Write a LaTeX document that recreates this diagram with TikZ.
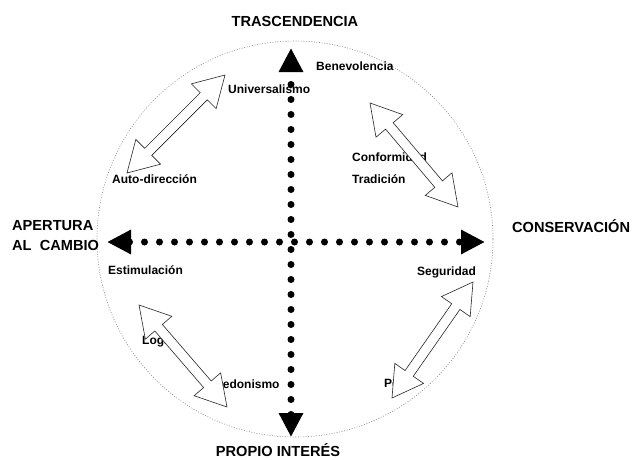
\documentclass[tikz,border=0pt]{standalone}
\usepackage{fontspec}
\setmainfont{Liberation Sans}
\usetikzlibrary{arrows.meta,calc}

% hollow two-headed arrow between two named coordinates
\newcommand{\twoway}[2]{%
  \draw[hollowarrow] (#1)
    -- ($(#1)!30pt!(#2)!17.5pt!90:(#2)$) -- ($(#1)!30pt!(#2)!5pt!90:(#2)$)
    -- ($(#2)!30pt!(#1)!5pt!-90:(#1)$) -- ($(#2)!30pt!(#1)!17.5pt!-90:(#1)$)
    -- (#2)
    -- ($(#2)!30pt!(#1)!17.5pt!90:(#1)$) -- ($(#2)!30pt!(#1)!5pt!90:(#1)$)
    -- ($(#1)!30pt!(#2)!5pt!-90:(#2)$) -- ($(#1)!30pt!(#2)!17.5pt!-90:(#2)$)
    -- cycle;}

\begin{document}
\begin{tikzpicture}[x=1pt,y=-1pt,
    pole/.style={font=\fontsize{14.6}{20}\selectfont\bfseries},
    value/.style={font=\fontsize{12}{14}\selectfont\bfseries, anchor=west,
      text height=1.5ex, text depth=.25ex},
    axisline/.style={line width=7pt, line cap=round, dash pattern=on 0pt off 15pt,
      {Triangle[length=24pt,width=23pt]}-{Triangle[length=24pt,width=23pt]}},
    hollowarrow/.style={draw=black!85, line width=0.6pt, fill=white, line join=miter},
    rim/.style={draw=black!45, line width=0.6pt, dash pattern=on 1pt off 1.6pt}]
				\tikzstyle{every node}+=[inner sep=0pt]
				\useasboundingbox (0,0) rectangle (633,459);
				\draw [rim] (295,239) circle [radius=198pt];
				% axis ends
				\coordinate (north) at (291,48);
				\coordinate (south) at (291,437);
				\coordinate (west) at (107,242);
				\coordinate (east) at (485,242);
				\draw [axisline] (south) -- (north);
				\draw [axisline] (west) -- (east);
				% poles
				\node [pole] (trasc) at (295,21) {TRASCENDENCIA};
				\node [pole, anchor=base] (propio) at (278,456) {PROPIO INTERÉS};
				\node [pole, anchor=west] (conserv) at (512,226) {CONSERVACIÓN};
				\node [pole, anchor=west, align=left] (apertura) at (12,236) {APERTURA\\AL \ CAMBIO};
				% values
				\node [value] (benev) at (316,67) {Benevolencia};
				\node [value] (univ) at (228,90) {Universalismo};
				\node [value] (autod) at (112,180) {Auto-dirección};
				\node [value] (conf) at (352,158) {Conformidad};
				\node [value] (trad) at (352,180) {Tradición};
				\node [value] (estim) at (108,271) {Estimulación};
				\node [value] (segur) at (417,272) {Seguridad};
				\node [value] (logro) at (142,341) {Logro};
				\node [value] (hedon) at (214,385) {Hedonismo};
				\node [value] (poder) at (384,384) {Poder};
				% arrow ends
				\coordinate (ul-a) at (225,75);
				\coordinate (ul-b) at (127,173);
				\coordinate (ur-a) at (370,103);
				\coordinate (ur-b) at (458,207);
				\coordinate (ll-a) at (139,305);
				\coordinate (ll-b) at (227,407);
				\coordinate (lr-a) at (473,282);
				\coordinate (lr-b) at (392,398);
				\twoway{ul-a}{ul-b}
				\twoway{ur-a}{ur-b}
				\twoway{ll-a}{ll-b}
				\twoway{lr-a}{lr-b}
\end{tikzpicture}
\end{document}
